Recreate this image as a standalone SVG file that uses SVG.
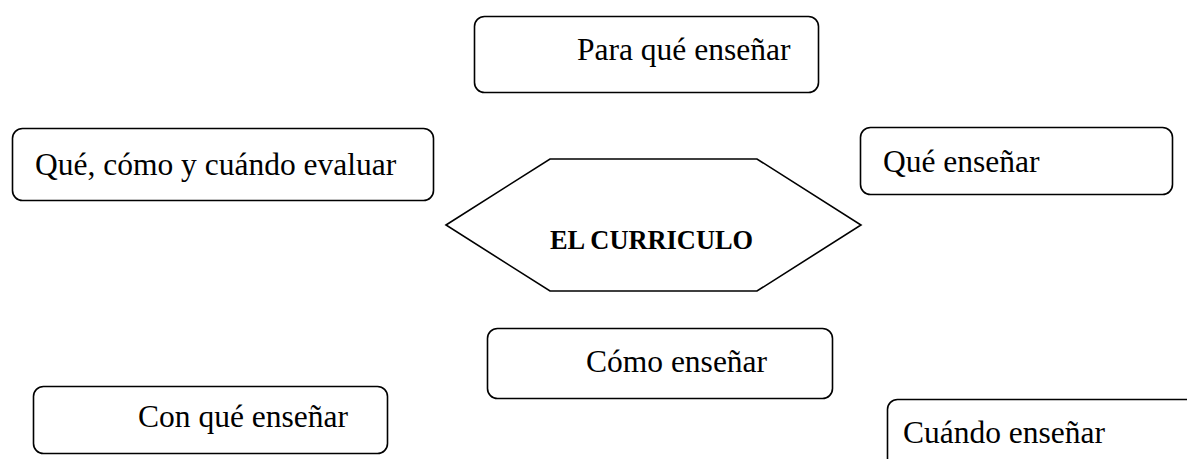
<svg xmlns="http://www.w3.org/2000/svg" width="1187" height="459" viewBox="0 0 1187 459">
<style>
.box{fill:#fff;stroke:#000;stroke-width:1.6}
.t{font-family:"Liberation Serif","Times New Roman",serif;font-size:31.5px;fill:#000}
.b{font-family:"Liberation Serif","Times New Roman",serif;font-size:26.4px;font-weight:bold;fill:#000}
</style>
<rect width="1187" height="459" fill="#fff"/>
<g id="connectors"/>
<g id="para">
<rect class="box" x="474.5" y="16.5" width="344" height="76" rx="10"/>
<text class="t" x="577" y="60">Para qué enseñar</text>
</g>
<g id="evaluar">
<rect class="box" x="12.5" y="128.5" width="421" height="72" rx="10"/>
<text class="t" x="35" y="175">Qué, cómo y cuándo evaluar</text>
</g>
<g id="que">
<rect class="box" x="860.5" y="127.5" width="312" height="67" rx="10"/>
<text class="t" x="883" y="172">Qué enseñar</text>
</g>
<g id="curriculo">
<polygon class="box" points="446,225 550,159 757,159 861,225 757,291 550,291"/>
<text class="b" x="550" y="249">EL CURRICULO</text>
</g>
<g id="como">
<rect class="box" x="487.5" y="328.5" width="345" height="70" rx="10"/>
<text class="t" x="586" y="372">Cómo enseñar</text>
</g>
<g id="conque">
<rect class="box" x="33.5" y="386.5" width="354" height="67" rx="10"/>
<text class="t" x="138" y="427">Con qué enseñar</text>
</g>
<g id="cuando">
<rect class="box" x="887.5" y="399.5" width="320" height="80" rx="10"/>
<text class="t" x="903" y="443">Cuándo enseñar</text>
</g>
</svg>
